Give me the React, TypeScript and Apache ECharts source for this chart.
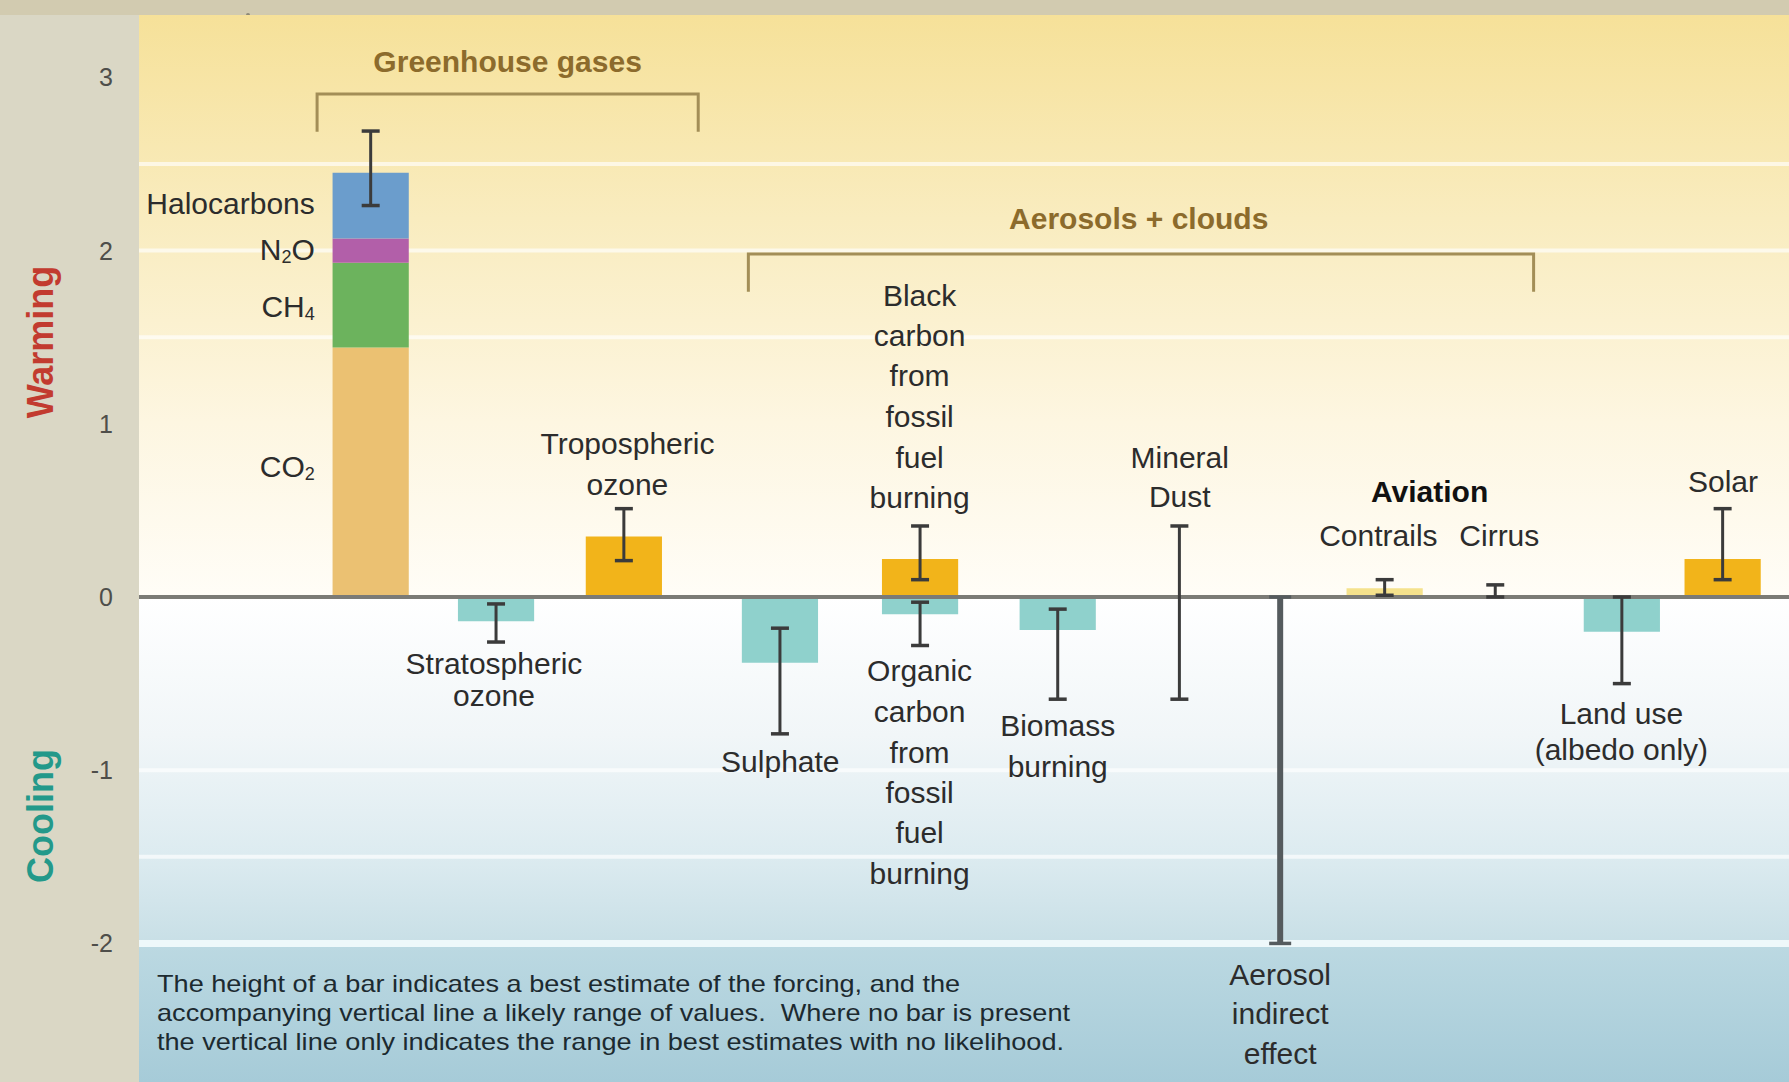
import React, { useEffect, useRef } from 'react';
import * as echarts from 'echarts';

const W = 1789;
const H = 1082;

// ---- Axis ----
const yMin = -2.8;
const yMax = 3.36;
const yLabelValues = [-2, -1, 0, 1, 2, 3];
const yTickValues = [-2, -1.5, -1, -0.5, 0, 0.5, 1, 1.5, 2, 2.5, 3];
const xMin = -0.885;
const xMax = 12.54;

// ---- Greenhouse gases (stacked bar) ----
const ghgComponents = ['CO2', 'CH4', 'N2O', 'Halocarbons'];
const ghgValues = [1.44, 0.49, 0.14, 0.38];
const ghgPosition = 1.0;
const ghgLow = 2.26;
const ghgHigh = 2.69;

// ---- Other agents with a best estimate (bar + likely range) ----
const barNames = [
  'Stratospheric ozone',
  'Tropospheric ozone',
  'Sulphate',
  'Black carbon from fossil fuel burning',
  'Organic carbon from fossil fuel burning',
  'Biomass burning',
  'Contrails',
  'Land use (albedo only)',
  'Solar',
];
const barPositions = [2.02, 3.06, 4.33, 5.47, 5.47, 6.59, 9.25, 11.18, 12.0];
const barBest = [-0.14, 0.35, -0.38, 0.22, -0.1, -0.19, 0.05, -0.2, 0.22];
const barLow = [-0.26, 0.21, -0.79, 0.1, -0.28, -0.59, 0.01, -0.5, 0.1];
const barHigh = [-0.04, 0.51, -0.18, 0.41, -0.03, -0.07, 0.1, 0.0, 0.51];

// ---- Agents with only a range of estimates ----
const rangeNames = ['Mineral Dust', 'Aerosol indirect effect', 'Cirrus'];
const rangePositions = [7.58, 8.4, 10.15];
const rangeLow = [-0.59, -2.0, 0.0];
const rangeHigh = [0.41, 0.0, 0.07];

// ---- Background bands (white lines of the backdrop) ----
const bandLines = [2.5, 2, 1.5, -1, -1.5];

// ---- Group brackets ----
const groupTitles = ['Greenhouse gases', 'Aerosols + clouds'];
const groupStart = [0.564, 4.073];
const groupEnd = [3.665, 10.462];
const groupLevel = [2.904, 1.98];
const groupDrop = [2.686, 1.762];
const groupTitleX = [2.114, 7.249];
const groupTitleY = [3.089, 2.185];

// ---- Text labels ----
const labelTexts = [
  'Halocarbons', 'N{s|2}O', 'CH{s|4}', 'CO{s|2}',
  'Tropospheric', 'ozone',
  'Stratospheric', 'ozone',
  'Black', 'carbon', 'from', 'fossil', 'fuel', 'burning',
  'Organic', 'carbon', 'from', 'fossil', 'fuel', 'burning',
  'Sulphate',
  'Biomass', 'burning',
  'Mineral', 'Dust',
  'Aerosol', 'indirect', 'effect',
  'Aviation',
  'Contrails', 'Cirrus',
  'Land use', '(albedo only)',
  'Solar',
];
const labelX = [
  0.545, 0.545, 0.545, 0.545,
  3.089, 3.089,
  2.003, 2.003,
  5.466, 5.466, 5.466, 5.466, 5.466, 5.466,
  5.466, 5.466, 5.466, 5.466, 5.466, 5.466,
  4.333,
  6.59, 6.59,
  7.583, 7.583,
  8.4, 8.4, 8.4,
  9.616,
  9.199, 10.183,
  11.176, 11.176,
  12.003,
];
const labelY = [
  2.271, 2.007, 1.677, 0.752,
  0.884, 0.647,
  -0.383, -0.568,
  1.743, 1.512, 1.281, 1.043, 0.805, 0.574,
  -0.422, -0.66, -0.898, -1.129, -1.36, -1.597,
  -0.95,
  -0.739, -0.977,
  0.805, 0.581,
  -2.178, -2.403, -2.634,
  0.607,
  0.356, 0.356,
  -0.673, -0.878,
  0.667,
];

const footnoteLines = [
  'The height of a bar indicates a best estimate of the forcing, and the',
  'accompanying vertical line a likely range of values.  Where no bar is present',
  'the vertical line only indicates the range in best estimates with no likelihood.',
];

const FONT = '"Liberation Sans", Arial, sans-serif';
const ghgColors = ['#ebc172', '#6cb35d', '#b25fa9', '#6b9dcc'];
const WARM = '#f2b41a';
const COOL = '#8fd1cc';
const PALE = '#f5e28c';
const BAR_W = 0.62;

export default function App() {
  const ref = useRef<HTMLDivElement>(null);
  useEffect(() => {
    if (!ref.current) return;
    const chart = echarts.init(ref.current, null, { renderer: 'svg' });

    const rects: any[] = [];
    const rectColors: string[] = [];
    let acc = 0;
    ghgValues.forEach((v, i) => {
      rects.push([ghgPosition, acc, acc + v]);
      rectColors.push(ghgColors[i]);
      acc += v;
    });
    barBest.forEach((v, i) => {
      rects.push([barPositions[i], 0, v]);
      rectColors.push(barNames[i] === 'Contrails' ? PALE : v >= 0 ? WARM : COOL);
    });

    const errs: any[] = [[ghgPosition, ghgLow, ghgHigh]];
    const errThick: boolean[] = [false];
    barPositions.forEach((p, i) => {
      errs.push([p, barLow[i], barHigh[i]]);
      errThick.push(false);
    });
    rangePositions.forEach((p, i) => {
      errs.push([p, rangeLow[i], rangeHigh[i]]);
      errThick.push(rangeNames[i] === 'Aerosol indirect effect');
    });

    const yellowGrad = new echarts.graphic.LinearGradient(0, 0, 0, 1, [
      { offset: 0, color: '#f6e199' },
      { offset: 0.35, color: '#f9ecbf' },
      { offset: 0.7, color: '#fdf6e1' },
      { offset: 1, color: '#fffdf7' },
    ]);
    const blueGrad = new echarts.graphic.LinearGradient(0, 0, 0, 1, [
      { offset: 0, color: '#ffffff' },
      { offset: 0.4, color: '#f1f6f8' },
      { offset: 0.75, color: '#dcebf0' },
      { offset: 1, color: '#c8dfe6' },
    ]);
    const deepGrad = new echarts.graphic.LinearGradient(0, 0, 0, 1, [
      { offset: 0, color: '#bcd9e2' },
      { offset: 1, color: '#a6cbd8' },
    ]);

    const option: any = {
      animation: false,
      grid: { left: 139, right: 0, top: 15, bottom: 0, containLabel: false },
      xAxis: { type: 'value', min: xMin, max: xMax, show: false },
      yAxis: {
        type: 'value',
        min: yMin,
        max: yMax,
        axisLine: { show: true, lineStyle: { color: '#8d8976', width: 4 } },
        axisTick: {
          show: true,
          length: 11,
          customValues: yTickValues,
          lineStyle: { color: '#4a4a44', width: 3 },
        },
        axisLabel: {
          customValues: yLabelValues,
          margin: 26,
          fontSize: 25,
          fontFamily: FONT,
          color: '#4e4e4a',
        },
        splitLine: { show: false },
      },
      graphic: {
        elements: [
          { type: 'rect', z: 0, shape: { x: 0, y: 0, width: W, height: 15 }, style: { fill: '#d2cbb0' } },
          {
            type: 'text', x: 40, y: 342, rotation: Math.PI / 2,
            style: { text: 'Warming', fill: '#c23b2f', fontSize: 36, fontWeight: 'bold', fontFamily: FONT, align: 'center', verticalAlign: 'middle' },
          },
          {
            type: 'text', x: 40, y: 816, rotation: Math.PI / 2,
            style: { text: 'Cooling', fill: '#23998a', fontSize: 36, fontWeight: 'bold', fontFamily: FONT, align: 'center', verticalAlign: 'middle' },
          },
          {
            type: 'text', x: 157, y: 969, scaleX: 1.13, z: 10,
            style: {
              text: footnoteLines.join('\n'), fill: '#1c2a30', fontSize: 24, lineHeight: 29,
              fontFamily: FONT, align: 'left', verticalAlign: 'top',
            },
          },
        ],
      },
      series: [
        {
          type: 'line',
          z: 0,
          data: [[xMin, 0]],
          symbol: 'none',
          silent: true,
          markArea: {
            silent: true,
            label: { show: false },
            data: [
              [{ coord: [xMin, 0], itemStyle: { color: yellowGrad, opacity: 1 } }, { coord: [xMax, yMax] }],
              [{ coord: [xMin, -2], itemStyle: { color: blueGrad, opacity: 1 } }, { coord: [xMax, 0] }],
              [{ coord: [xMin, yMin], itemStyle: { color: deepGrad, opacity: 1 } }, { coord: [xMax, -2] }],
            ],
          },
        },
        {
          type: 'custom',
          z: 1,
          data: bandLines.map((v) => [xMin, v]),
          renderItem: (params: any, api: any) => {
            const v = bandLines[params.dataIndex];
            const a = api.coord([xMin, v]);
            const b = api.coord([xMax, v]);
            return {
              type: 'line',
              shape: { x1: a[0], y1: a[1], x2: b[0], y2: b[1] },
              style: { stroke: 'rgba(255,255,255,0.65)', lineWidth: 4 },
            };
          },
        },
        {
          type: 'custom',
          z: 1,
          data: [[xMin, -2]],
          renderItem: (params: any, api: any) => {
            const a = api.coord([xMin, -2]);
            const b = api.coord([xMax, -2]);
            return {
              type: 'line',
              shape: { x1: a[0], y1: a[1], x2: b[0], y2: b[1] },
              style: { stroke: '#eef8fa', lineWidth: 7 },
            };
          },
        },
        {
          type: 'custom',
          z: 3,
          data: rects,
          renderItem: (params: any, api: any) => {
            const i = params.dataIndex;
            const p = api.value(0);
            const a = api.coord([p - BAR_W / 2, api.value(1)]);
            const b = api.coord([p + BAR_W / 2, api.value(2)]);
            return {
              type: 'rect',
              shape: { x: a[0], y: Math.min(a[1], b[1]), width: b[0] - a[0], height: Math.abs(b[1] - a[1]) },
              style: { fill: rectColors[i] },
            };
          },
        },
        {
          type: 'custom',
          z: 5,
          data: [[xMin, 0]],
          renderItem: (params: any, api: any) => {
            const a = api.coord([xMin, 0]);
            const b = api.coord([xMax, 0]);
            return { type: 'line', shape: { x1: a[0], y1: a[1], x2: b[0], y2: b[1] }, style: { stroke: '#7b7b76', lineWidth: 4 } };
          },
        },
        {
          type: 'custom',
          z: 6,
          data: errs,
          renderItem: (params: any, api: any) => {
            const i = params.dataIndex;
            const p = api.value(0);
            const lo = api.coord([p, api.value(1)]);
            const hi = api.coord([p, api.value(2)]);
            const thick = errThick[i];
            const lw = thick ? 6 : 3;
            const cw = thick ? 11 : 9;
            const col = thick ? '#555b5e' : '#3b3b3b';
            return {
              type: 'group',
              children: [
                { type: 'line', shape: { x1: lo[0], y1: lo[1], x2: hi[0], y2: hi[1] }, style: { stroke: col, lineWidth: lw } },
                { type: 'line', shape: { x1: lo[0] - cw, y1: lo[1], x2: lo[0] + cw, y2: lo[1] }, style: { stroke: col, lineWidth: 3.5 } },
                { type: 'line', shape: { x1: hi[0] - cw, y1: hi[1], x2: hi[0] + cw, y2: hi[1] }, style: { stroke: col, lineWidth: 3.5 } },
              ],
            };
          },
        },
        {
          type: 'custom',
          z: 7,
          data: groupTitles.map((_, i) => [groupStart[i], groupLevel[i]]),
          renderItem: (params: any, api: any) => {
            const i = params.dataIndex;
            const p1 = api.coord([groupStart[i], groupDrop[i]]);
            const p2 = api.coord([groupStart[i], groupLevel[i]]);
            const p3 = api.coord([groupEnd[i], groupLevel[i]]);
            const p4 = api.coord([groupEnd[i], groupDrop[i]]);
            const t = api.coord([groupTitleX[i], groupTitleY[i]]);
            return {
              type: 'group',
              children: [
                { type: 'polyline', shape: { points: [p1, p2, p3, p4] }, style: { stroke: '#a38e57', lineWidth: 3, fill: 'none' } },
                {
                  type: 'text', x: t[0], y: t[1],
                  style: { text: groupTitles[i], fill: '#8c6b2c', fontSize: 30, fontWeight: 'bold', fontFamily: FONT, align: 'center', verticalAlign: 'middle' },
                },
              ],
            };
          },
        },
        {
          type: 'custom',
          z: 8,
          data: labelTexts.map((_, i) => [labelX[i], labelY[i]]),
          renderItem: (params: any, api: any) => {
            const i = params.dataIndex;
            const p = api.coord([labelX[i], labelY[i]]);
            const right = i < ghgComponents.length;
            const bold = labelTexts[i] === 'Aviation';
            return {
              type: 'text', x: p[0], y: p[1],
              style: {
                text: labelTexts[i],
                fill: bold ? '#111111' : '#2c2c2c',
                fontSize: 30,
                fontWeight: bold ? 'bold' : 'normal',
                fontFamily: FONT,
                align: right ? 'right' : 'center',
                verticalAlign: 'middle',
                rich: {
                  s: { fontSize: 18, fontFamily: FONT, fill: '#2c2c2c', verticalAlign: 'bottom', padding: [15, 0, 0, 0] },
                },
              },
            };
          },
        },
      ],
    };
    chart.setOption(option);
    return () => chart.dispose();
  }, []);
  return (
    <div
      ref={ref}
      style={{ position: 'absolute', left: 0, top: 0, width: W, height: H, background: '#dad7c5' }}
    />
  );
}
